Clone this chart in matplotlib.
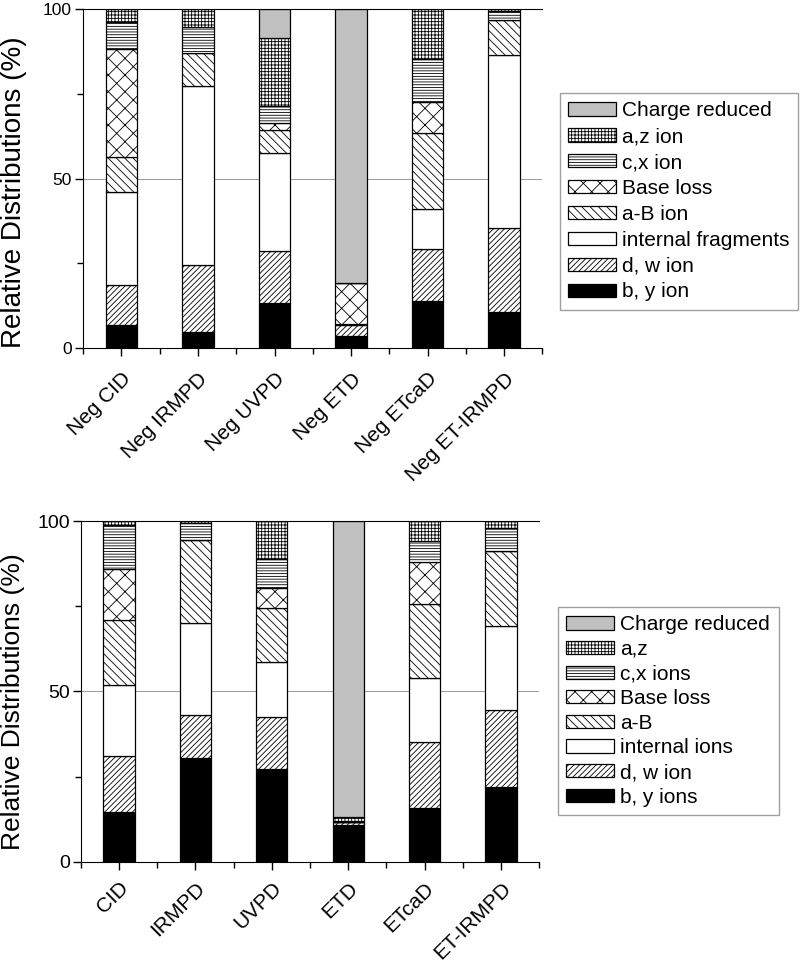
## Distributions relatives des fragments (deux panneaux empiles)
import matplotlib
matplotlib.use("Agg")
import matplotlib.pyplot as plt
import numpy as np

plt.rcParams['font.family'] = ['Liberation Sans', 'DejaVu Sans']
plt.rcParams['hatch.linewidth'] = 0.6

## donnees - panneau du haut (mode negatif)
categories_haut = ["Neg CID", "Neg IRMPD", "Neg UVPD", "Neg ETD", "Neg ETcaD", "Neg ET-IRMPD"]
by_haut = [6.8, 4.8, 13.4, 3.6, 13.9, 10.8]
dw_haut = [11.8, 19.7, 15.3, 3.3, 15.3, 24.5]
int_haut = [27.5, 52.7, 28.8, 0.4, 11.7, 51.0]
aB_haut = [10.1, 9.8, 6.7, 0, 22.6, 10.5]
base_haut = [32.0, 0, 2.2, 11.8, 8.9, 0]
cx_haut = [7.9, 7.6, 4.9, 0, 12.9, 2.5]
az_haut = [3.9, 5.4, 20.1, 0, 14.7, 0.7]
charge_haut = [0, 0, 8.6, 80.9, 0, 0]
legende_haut = ["b, y ion", "d, w ion", "internal fragments", "a-B ion",
                "Base loss", "c,x ion", "a,z ion", "Charge reduced"]

## donnees - panneau du bas
categories_bas = ["CID", "IRMPD", "UVPD", "ETD", "ETcaD", "ET-IRMPD"]
by_bas = [14.6, 30.4, 27.3, 10.8, 15.7, 22.0]
dw_bas = [16.4, 12.7, 15.1, 0.8, 19.4, 22.5]
int_bas = [20.9, 26.9, 16.1, 0, 18.8, 24.8]
aB_bas = [19.0, 24.4, 16.1, 0, 21.9, 22.0]
base_bas = [14.9, 0, 5.9, 0, 12.2, 0]
cx_bas = [13.0, 4.9, 8.3, 0.5, 6.2, 6.7]
az_bas = [1.2, 0.7, 11.2, 0.9, 5.8, 2.0]
charge_bas = [0, 0, 0, 87.0, 0, 0]
legende_bas = ["b, y ions", "d, w ion", "internal ions", "a-B",
               "Base loss", "c,x ions", "a,z", "Charge reduced"]

# styles des segments (du bas vers le haut)
couleurs = ['black', 'white', 'white', 'white', 'white', 'white', 'white', '#c0c0c0']
hachures = [None, '//////', None, '\\\\\\\\', 'xx', '------', '+++++', None]


def trace_panneau(ax, categories, series, fs_ticks, fs_xlab, fs_ylab, pad_x):
    x = np.arange(1, len(categories) + 1)
    bas = np.zeros(len(categories))
    barres = []
    for k, s in enumerate(series):
        b = ax.bar(x, s, 0.41, bottom=bas, color=couleurs[k], hatch=hachures[k],
                   edgecolor='black', linewidth=0.9, zorder=2)
        barres.append(b)
        bas = bas + np.array(s)
    ax.set_xlim(0.5, 6.5)
    ax.set_ylim(0, 100)
    ax.set_yticks([0, 50, 100])
    ax.set_yticks([25, 75], minor=True)
    ax.set_xticks(x)
    ax.set_xticks(np.arange(0.5, 7, 1), minor=True)
    ax.set_xticklabels(categories, rotation=45, ha='right', rotation_mode='anchor',
                       fontsize=fs_xlab)
    ax.tick_params(axis='y', labelsize=fs_ticks, pad=2)
    ax.tick_params(axis='x', pad=pad_x)
    ax.tick_params(which='major', direction='out', length=6, width=1)
    ax.tick_params(which='minor', direction='out', length=4, width=1)
    ax.spines['right'].set_visible(False)
    ax.yaxis.grid(True, which='major', color='#999999', linewidth=0.7, zorder=0)
    ax.set_axisbelow(True)
    ax.set_ylabel("Relative Distributions (%)", fontsize=fs_ylab)
    return barres


fig = plt.figure(figsize=(8, 9.65), dpi=100)
ax1 = fig.add_axes([0.104, 0.639, 0.574, 0.352])
ax2 = fig.add_axes([0.101, 0.107, 0.573, 0.353])

series_haut = [by_haut, dw_haut, int_haut, aB_haut, base_haut, cx_haut, az_haut, charge_haut]
series_bas = [by_bas, dw_bas, int_bas, aB_bas, base_bas, cx_bas, az_bas, charge_bas]

b1 = trace_panneau(ax1, categories_haut, series_haut, 12.5, 15, 20, 9)
b2 = trace_panneau(ax2, categories_bas, series_bas, 14, 15, 19, 6)
ax1.yaxis.set_label_coords(-0.122, 0.46)
ax2.yaxis.set_label_coords(-0.122, 0.47)

# legendes (ordre inverse de l'empilement)
for barres, labels, pos, esp in [(b1, legende_haut, (0.70, 0.9036), 0.33),
                                 (b2, legende_bas, (0.6975, 0.371), 0.27)]:
    leg = fig.legend(barres[::-1], labels[::-1], loc='upper left', bbox_to_anchor=pos,
                     fontsize=15, fancybox=False, handlelength=2.3, handleheight=0.6,
                     labelspacing=esp, handletextpad=0.3, borderpad=0.4,
                     borderaxespad=0)
    leg.get_frame().set_edgecolor('#888888')
    leg.get_frame().set_linewidth(1)

fig.savefig("out.png", dpi=100)
